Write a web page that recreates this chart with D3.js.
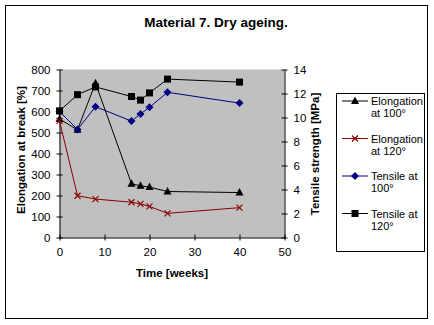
<!DOCTYPE html>
<html>
<head>
<meta charset="utf-8">
<script src="https://cdn.jsdelivr.net/npm/d3@7"></script>
<style>
  body { margin: 0; background: #fff; }
  text { font-family: "Liberation Sans", Arial, sans-serif; }
</style>
</head>
<body>
<div id="chart"></div>
<script>
// data
const weeks = [0, 4, 8, 16, 18, 20, 24, 40]
const elong100 = [564, 513, 735, 256, 246, 240, 219, 214]
const elong120 = [555, 199, 183, 168, 160, 148, 115, 142]
const tensile100 = [10.5, 9.0, 10.9, 9.7, 10.3, 10.85, 12.1, 11.2]
const tensile120 = [10.55, 11.9, 12.55, 11.75, 11.45, 12.05, 13.2, 12.95]
const xTicks = [0, 10, 20, 30, 40, 50]
const leftTicks = [0, 100, 200, 300, 400, 500, 600, 700, 800]
const rightTicks = [0, 2, 4, 6, 8, 10, 12, 14]

const svg = d3.select("#chart").append("svg")
  .attr("width", 434)
  .attr("height", 325)

// outer frame
svg.append("rect")
  .attr("x", 5.5).attr("y", 5.5)
  .attr("width", 422).attr("height", 313)
  .attr("fill", "#fff").attr("stroke", "#000").attr("stroke-width", 1)

svg.append("text")
  .attr("x", 216).attr("y", 27)
  .attr("text-anchor", "middle")
  .style("font-size", "13.5px").style("font-weight", "bold")
  .text("Material 7. Dry ageing.")

var x = d3.scaleLinear().domain([0, 50]).range([59.5, 284.5])
var yL = d3.scaleLinear().domain([0, 800]).range([237.5, 69.5])
var yR = d3.scaleLinear().domain([0, 14]).range([237.5, 69.5])

// plot area
svg.append("rect")
  .attr("x", x(0)).attr("y", yL(800))
  .attr("width", x(50) - x(0)).attr("height", yL(0) - yL(800))
  .attr("fill", "#c0c0c0")

const tickStyle = g => {
  g.selectAll(".domain").attr("stroke", "#000")
  g.selectAll("line").attr("stroke", "#000")
  g.selectAll("text").style("font-size", "11.5px").attr("fill", "#000")
    .style("font-family", "'Liberation Sans', Arial, sans-serif")
}

svg.append("g")
  .attr("transform", `translate(0,${yL(0)})`)
  .call(d3.axisBottom(x).tickValues(xTicks).tickSizeInner(3).tickSizeOuter(0).tickPadding(7))
  .call(tickStyle)
  .call(g => g.selectAll(".tick line").attr("y1", -3))

svg.append("g")
  .attr("transform", `translate(${x(0)},0)`)
  .call(d3.axisLeft(yL).tickValues(leftTicks).tickSizeInner(3).tickSizeOuter(0).tickPadding(6))
  .call(tickStyle)
  .call(g => g.selectAll(".tick line").attr("x1", 3))

svg.append("g")
  .attr("transform", `translate(${x(50)},0)`)
  .call(d3.axisRight(yR).tickValues(rightTicks).tickSizeInner(3).tickSizeOuter(0).tickPadding(6))
  .call(tickStyle)
  .call(g => g.selectAll(".tick line").attr("x1", -3))

svg.append("text")
  .attr("transform", "translate(25,150) rotate(-90)")
  .attr("text-anchor", "middle")
  .style("font-size", "11.5px").style("font-weight", "bold")
  .text("Elongation at break [%]")

svg.append("text")
  .attr("transform", "translate(319,154) rotate(-90)")
  .attr("text-anchor", "middle")
  .style("font-size", "11.5px").style("font-weight", "bold")
  .text("Tensile strength [MPa]")

svg.append("text")
  .attr("x", 172).attr("y", 277)
  .attr("text-anchor", "middle")
  .style("font-size", "11.5px").style("font-weight", "bold")
  .text("Time [weeks]")

const series = [
  { name: ["Elongation", "at 100°"], values: elong100, y: yL, color: "#000", marker: "triangle" },
  { name: ["Elongation", "at 120°"], values: elong120, y: yL, color: "#8b0000", marker: "x" },
  { name: ["Tensile at", "100°"], values: tensile100, y: yR, color: "#000080", marker: "diamond" },
  { name: ["Tensile at", "120°"], values: tensile120, y: yR, color: "#000", marker: "square" }
]

function drawMarker(g, type, color) {
  if (type === "triangle") {
    g.append("path").attr("d", "M0,-4.5L4,3L-4,3Z").attr("fill", color)
  } else if (type === "square") {
    g.append("rect").attr("x", -3.5).attr("y", -3.5).attr("width", 7).attr("height", 7).attr("fill", color)
  } else if (type === "diamond") {
    g.append("path").attr("d", "M0,-4L4,0L0,4L-4,0Z").attr("fill", color)
  } else {
    g.append("path").attr("d", "M-3,-3L3,3M-3,3L3,-3").attr("stroke", color).attr("stroke-width", 1.2)
  }
}

series.forEach(s => {
  const line = d3.line()
    .x((d, i) => x(weeks[i]))
    .y(d => s.y(d))
  svg.append("path")
    .datum(s.values)
    .attr("d", line)
    .attr("fill", "none")
    .attr("stroke", s.color)
    .attr("stroke-width", 1)
  s.values.forEach((v, i) => {
    const g = svg.append("g").attr("transform", `translate(${x(weeks[i])},${s.y(v)})`)
    drawMarker(g, s.marker, s.color)
  })
})

// legend
svg.append("rect")
  .attr("x", 336.5).attr("y", 93.5)
  .attr("width", 88).attr("height", 158)
  .attr("fill", "#fff").attr("stroke", "#000")

series.forEach((s, i) => {
  const top = 105 + i * 37.5
  const g = svg.append("g")
  g.append("line")
    .attr("x1", 342).attr("x2", 368)
    .attr("y1", top - 4).attr("y2", top - 4)
    .attr("stroke", s.color)
  const m = g.append("g").attr("transform", `translate(355,${top - 4})`)
  drawMarker(m, s.marker, s.color)
  g.append("text")
    .attr("x", 371).attr("y", top)
    .style("font-size", "11px")
    .text(s.name[0])
  g.append("text")
    .attr("x", 371).attr("y", top + 12)
    .style("font-size", "11px")
    .text(s.name[1])
})
</script>
</body>
</html>
